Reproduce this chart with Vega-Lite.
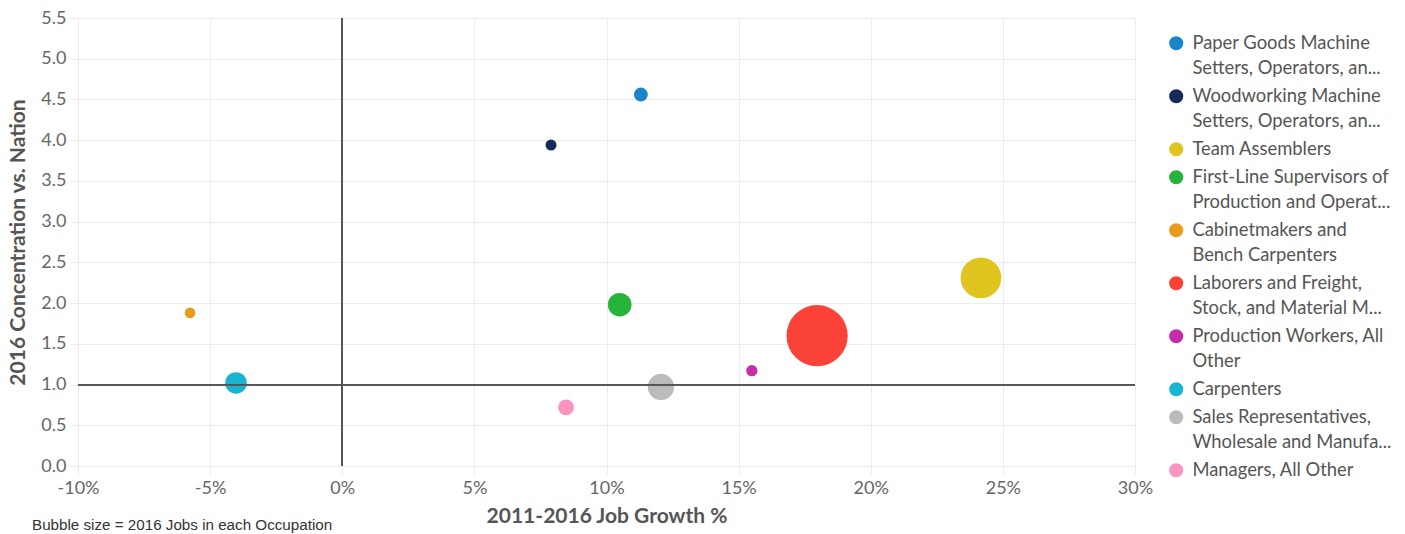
{
  "$schema": "https://vega.github.io/schema/vega-lite/v6.json",
  "width": 1057,
  "height": 448,
  "autosize": "none",
  "padding": {"left": 78, "top": 18, "right": 270, "bottom": 68},
  "background": "white",
  "config": {
    "view": {"stroke": null},
    "font": "Lato",
    "axis": {
      "domain": false,
      "gridColor": "#ececec",
      "tickColor": "#ececec",
      "tickSize": 8,
      "labelFont": "Lato",
      "labelFontSize": 18,
      "labelColor": "#666666",
      "titleFont": "Lato",
      "titleFontSize": 21,
      "titleFontWeight": "bold",
      "titleColor": "#555555"
    }
  },
  "title": {
    "text": "Bubble size = 2016 Jobs in each Occupation",
    "orient": "bottom",
    "anchor": "start",
    "frame": "group",
    "font": "Liberation Sans",
    "fontSize": 15.2,
    "fontWeight": "normal",
    "color": "#333333",
    "dx": -46,
    "offset": -8
  },
  "data": {
    "values": [
      {"occupation": "Paper Goods Machine Setters, Operators, and Tenders", "growth": 0.113, "concentration": 4.56, "jobs": 253},
      {"occupation": "Woodworking Machine Setters, Operators, and Tenders, Except Sawing", "growth": 0.079, "concentration": 3.94, "jobs": 160},
      {"occupation": "Team Assemblers", "growth": 0.2417, "concentration": 2.31, "jobs": 2171},
      {"occupation": "First-Line Supervisors of Production and Operating Workers", "growth": 0.105, "concentration": 1.98, "jobs": 731},
      {"occupation": "Cabinetmakers and Bench Carpenters", "growth": -0.0576, "concentration": 1.88, "jobs": 148},
      {"occupation": "Laborers and Freight, Stock, and Material Movers, Hand", "growth": 0.1797, "concentration": 1.6, "jobs": 4900},
      {"occupation": "Production Workers, All Other", "growth": 0.155, "concentration": 1.17, "jobs": 166},
      {"occupation": "Carpenters", "growth": -0.0402, "concentration": 1.02, "jobs": 606},
      {"occupation": "Sales Representatives, Wholesale and Manufacturing, Except Technical and Scientific Products", "growth": 0.1206, "concentration": 0.97, "jobs": 905},
      {"occupation": "Managers, All Other", "growth": 0.0847, "concentration": 0.72, "jobs": 332}
    ]
  },
  "layer": [
    {
      "mark": {"type": "circle", "opacity": 1, "stroke": null},
      "encoding": {
        "x": {
          "field": "growth", "type": "quantitative",
          "scale": {"domain": [-0.1, 0.3], "nice": false, "zero": false},
          "axis": {"title": "2011-2016 Job Growth %", "labelExpr": "replace(format(datum.value, '.0%'), '\u2212', '-')", "values": [-0.1, -0.05, 0, 0.05, 0.1, 0.15, 0.2, 0.25, 0.3], "labelFlush": false, "labelPadding": 5, "titlePadding": 8}
        },
        "y": {
          "field": "concentration", "type": "quantitative",
          "scale": {"domain": [0, 5.5], "nice": false},
          "axis": {"title": "2016 Concentration vs. Nation", "format": ".1f", "values": [0, 0.5, 1, 1.5, 2, 2.5, 3, 3.5, 4, 4.5, 5, 5.5], "labelFlush": false, "labelPadding": 4, "titlePadding": 12}
        },
        "size": {
          "field": "jobs", "type": "quantitative",
          "scale": {"type": "linear", "domain": [0, 4900], "range": [0, 3750], "zero": true},
          "legend": null
        },
        "color": {
          "field": "occupation", "type": "nominal",
          "scale": {
            "domain": [
              "Paper Goods Machine Setters, Operators, and Tenders",
              "Woodworking Machine Setters, Operators, and Tenders, Except Sawing",
              "Team Assemblers",
              "First-Line Supervisors of Production and Operating Workers",
              "Cabinetmakers and Bench Carpenters",
              "Laborers and Freight, Stock, and Material Movers, Hand",
              "Production Workers, All Other",
              "Carpenters",
              "Sales Representatives, Wholesale and Manufacturing, Except Technical and Scientific Products",
              "Managers, All Other"
            ],
            "range": ["#1a85c8", "#152a58", "#e0c420", "#26b33a", "#e99b20", "#fb4238", "#c42ea8", "#17b5d2", "#bbbbbb", "#fb94c0"]
          },
          "legend": {
            "title": null,
            "orient": "none",
            "legendX": 1089,
            "legendY": 16,
            "symbolType": "circle",
            "symbolSize": 200,
            "symbolStrokeWidth": 0,
            "symbolOpacity": 1,
            "labelFont": "Lato",
            "labelFontSize": 18.4,
            "labelColor": "#555555",
            "labelLimit": 400,
            "labelBaseline": "top",
            "labelOffset": 7,
            "rowPadding": 9,
            "labelExpr": "datum.label == 'Paper Goods Machine Setters, Operators, and Tenders' ? ['Paper Goods Machine', 'Setters, Operators, an...'] : datum.label == 'Woodworking Machine Setters, Operators, and Tenders, Except Sawing' ? ['Woodworking Machine', 'Setters, Operators, an...'] : datum.label == 'First-Line Supervisors of Production and Operating Workers' ? ['First-Line Supervisors of', 'Production and Operat...'] : datum.label == 'Cabinetmakers and Bench Carpenters' ? ['Cabinetmakers and', 'Bench Carpenters'] : datum.label == 'Laborers and Freight, Stock, and Material Movers, Hand' ? ['Laborers and Freight,', 'Stock, and Material M...'] : datum.label == 'Production Workers, All Other' ? ['Production Workers, All', 'Other'] : datum.label == 'Sales Representatives, Wholesale and Manufacturing, Except Technical and Scientific Products' ? ['Sales Representatives,', 'Wholesale and Manufa...'] : datum.label",
            "encoding": {"labels": {"lineHeight": {"value": 25}, "dy": {"value": -9}}}
          }
        }
      }
    },
    {
      "mark": {"type": "rule", "color": "#555555", "strokeWidth": 1.3},
      "encoding": {"x": {"datum": 0}}
    },
    {
      "mark": {"type": "rule", "color": "#555555", "strokeWidth": 1.3},
      "encoding": {"y": {"datum": 1}}
    }
  ]
}
